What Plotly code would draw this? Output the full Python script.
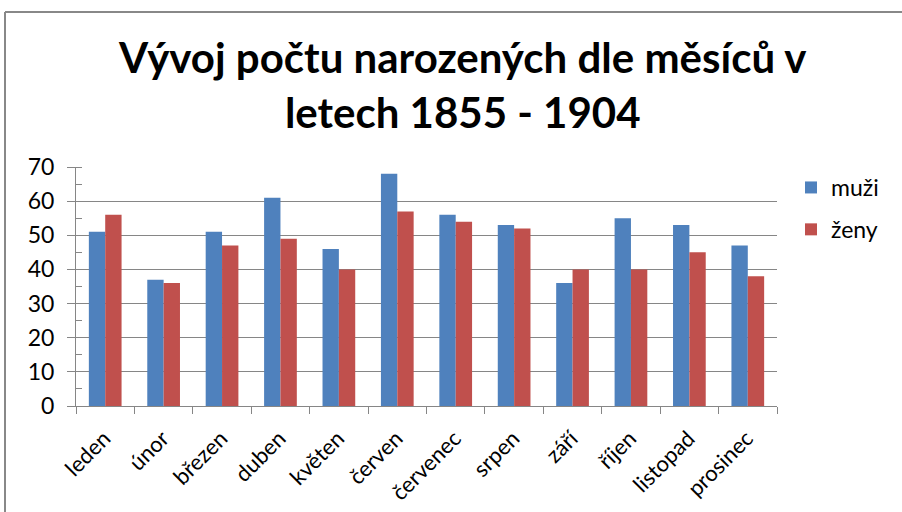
import plotly.graph_objects as go

months = ["leden", "únor", "březen", "duben", "květen", "červen",
          "červenec", "srpen", "září", "říjen", "listopad", "prosinec"]
muzi = [51, 37, 51, 61, 46, 68, 56, 53, 36, 55, 53, 47]
zeny = [56, 36, 47, 49, 40, 57, 54, 52, 40, 40, 45, 38]
y_ticks = [0, 10, 20, 30, 40, 50, 60, 70]

W, H = 902, 512
L, R, T, B = 76, 125, 167, 106
pw, ph = W - L - R, H - T - B

def px_x(x):
    return (x - L) / pw

def px_y(y):
    return (H - B - y) / ph

fig = go.Figure()
fig.add_trace(go.Bar(name="muži", x=months, y=muzi, marker_color="#4F81BD",
                     marker_line_width=0, legendgroup="m"))
fig.add_trace(go.Bar(name="ženy", x=months, y=zeny, marker_color="#C0504D",
                     marker_line_width=0, legendgroup="z"))

font = "Lato, Noto Sans, sans-serif"
fig.update_layout(
    width=W, height=H,
    margin=dict(l=L, r=R, t=T, b=B, autoexpand=False),
    paper_bgcolor="white", plot_bgcolor="white",
    barmode="group", bargap=0.44, bargroupgap=0,
    font=dict(family=font, color="#000000"),
    title=dict(text="<b>Vývoj počtu narozených dle měsíců v<br>letech 1855 - 1904</b>",
               x=0.513, xref="container", xanchor="center",
               y=1 - 73 / H, yref="container", yanchor="top",
               font=dict(size=42, family=font, color="#000000")),
    legend=dict(x=px_x(791), y=px_y(166), xref="paper", yref="paper",
                xanchor="left", yanchor="top", font=dict(size=23),
                tracegroupgap=9, itemsizing="constant", bgcolor="rgba(0,0,0,0)"),
    showlegend=True,
)
fig.update_xaxes(
    type="category", tickson="boundaries", ticks="outside", ticklen=7,
    tickcolor="#868686", showline=True, linecolor="#868686", linewidth=1,
    showgrid=False, tickangle=-45, tickfont=dict(size=22),
    ticklabelstandoff=10, ticklabelshift=-1,
)
fig.update_yaxes(
    range=[0, 70], tickvals=y_ticks, ticks="outside", ticklen=8,
    tickcolor="#868686", showline=True, linecolor="#868686", linewidth=1,
    showgrid=True, gridcolor="#868686", gridwidth=1, zeroline=False,
    tickfont=dict(size=23), ticklabelstandoff=8,
    minor=dict(dtick=5, ticks="inside", ticklen=6, tickcolor="#868686", showgrid=False),
)
# chart frame (extends beyond visible area on right and bottom)
frame = dict(type="line", xref="paper", yref="paper",
             line=dict(color="#888888", width=2))
fig.add_shape(**frame, x0=px_x(5), y0=px_y(12), x1=px_x(910), y1=px_y(12))
fig.add_shape(**frame, x0=px_x(5), y0=px_y(12), x1=px_x(5), y1=px_y(520))

fig.write_html("out.html", config={"displayModeBar": False},
               post_script="document.body.style.margin='0';")
